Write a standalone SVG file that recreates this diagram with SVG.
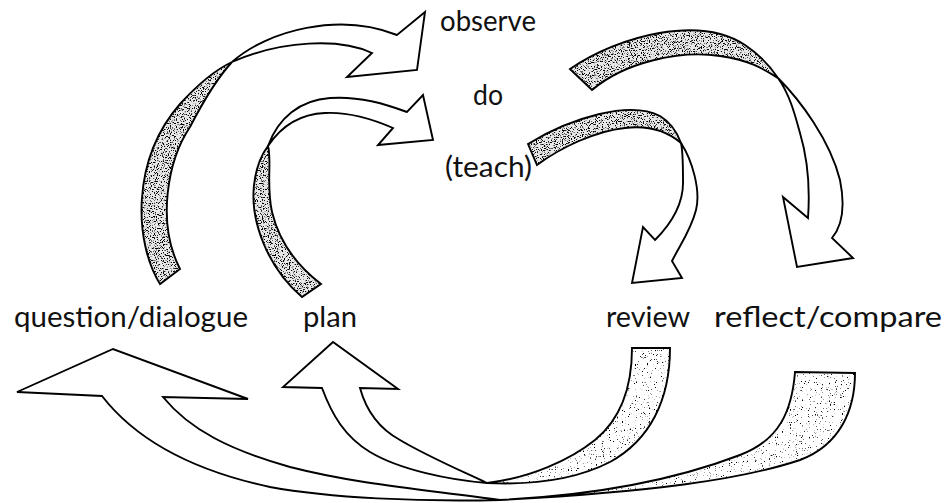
<svg xmlns="http://www.w3.org/2000/svg" xmlns:xlink="http://www.w3.org/1999/xlink" width="947" height="503" viewBox="0 0 947 503">
  <defs>
    <style>
      .lbl { font-family: Lato, "Open Sans", "Liberation Sans", sans-serif; font-size: 29px; fill: #111; }
      .face { fill: #fff; stroke: #000; stroke-width: 1.9; stroke-linejoin: miter; }
      .edge { fill: none; stroke: #000; stroke-width: 1.9; stroke-linejoin: miter; }
      .back-dark { fill: #e8e8e8; filter: url(#stippleDark); }
      .back-light { fill: #fff; filter: url(#stippleLight); }
    </style>
    <!-- speckled texture for the reverse side of the ribbons -->
    <filter id="stippleDark" x="0" y="0" width="100%" height="100%" color-interpolation-filters="sRGB">
      <feTurbulence type="fractalNoise" baseFrequency="0.85" numOctaves="2" seed="7" result="noise"/>
      <feColorMatrix in="noise" type="matrix" values="0 0 0 0 0  0 0 0 0 0  0 0 0 0 0  -9 0 0 0 4.15" result="dots"/>
      <feComposite in="dots" in2="SourceAlpha" operator="in" result="clip"/>
      <feMerge><feMergeNode in="SourceGraphic"/><feMergeNode in="clip"/></feMerge>
    </filter>
    <filter id="stippleLight" x="0" y="0" width="100%" height="100%" color-interpolation-filters="sRGB">
      <feTurbulence type="fractalNoise" baseFrequency="0.85" numOctaves="2" seed="3" result="noise"/>
      <feColorMatrix in="noise" type="matrix" values="0 0 0 0 0  0 0 0 0 0  0 0 0 0 0  -9 0 0 0 3.1" result="dots"/>
      <feComposite in="dots" in2="SourceAlpha" operator="in" result="clip"/>
      <feMerge><feMergeNode in="SourceGraphic"/><feMergeNode in="clip"/></feMerge>
    </filter>

    <!-- ribbon halves: s = reverse (speckled) side, w = front (white) side with head -->
    <path id="a1s" d="M160,284 C134,242 131,160 180,104 C200,82 215,70 232,62 C220,75 204,100 190,127 C168,160 156,222 180,269 Z"/>
    <path id="a1w" d="M232,62 C268,30 340,12 397,35 L425,12 L417,70 L347,77 L372,53 C340,38 282,40 232,62 Z"/>
    <path id="a2s" d="M302,297 C268,268 250,222 254,185 C256,168 261,155 268,146 C272,160 266,185 272,212 C280,245 300,268 321,284 Z"/>
    <path id="a2w" d="M268,146 C278,118 300,100 330,98 C360,96 385,104 407,112 L423,95 L433,140 L378,145 L393,128 C370,118 345,112 325,113 C300,114 282,125 268,146 Z"/>
    <path id="a3s" d="M528,144 C570,118 630,100 660,116 C670,122 677,132 681,143 C668,132 650,125 625,128 C595,131 560,148 537,165 Z"/>
    <path id="a3w" d="M681,143 C692,160 701,190 696,210 C691,230 680,245 672,261 L682,278 L632,283 L643,227 L655,240 C670,225 684,205 683,180 C683,165 683,152 681,143 Z"/>
    <path id="a4s" d="M570,69 C620,35 700,15 745,45 C760,55 770,66 778,78 C765,70 750,60 720,56 C680,50 625,62 592,90 Z"/>
    <path id="a4w" d="M778,78 C800,100 830,140 840,180 C845,205 843,225 832,238 L853,258 L797,267 L783,197 L808,218 C810,190 808,160 800,133 C795,115 790,95 778,78 Z"/>
    <path id="a5s" d="M632,348 L670,348 C670,400 650,440 610,462 C575,480 530,485 487,483 C530,478 570,460 595,440 C622,418 632,385 632,348 Z"/>
    <path id="a5w" d="M487,483 C450,480 400,470 370,452 C345,437 332,415 322,388 L283,387 L333,342 L398,389 L360,388 C366,410 378,428 400,440 C425,455 455,468 487,483 Z"/>
    <path id="a6s" d="M795,372 L855,373 C855,410 840,445 800,460 C740,480 650,492 500,500 C600,495 680,478 740,455 C780,440 792,410 795,372 Z"/>
    <path id="a6w" d="M500,500 C420,502 330,498 270,487 C200,472 140,445 102,396 L17,392 L113,349 L248,399 L163,397 C190,430 230,450 290,467 C360,485 430,490 500,500 Z"/>
  </defs>

  <rect width="947" height="503" fill="#fff"/>

  <g id="connectors">
    <!-- question/dialogue to observe -->
    <g id="arrow-question-observe">
      <use xlink:href="#a1w" class="face"/>
      <use xlink:href="#a1s" class="back-dark"/>
      <use xlink:href="#a1s" class="edge"/>
    </g>
    <!-- plan to do -->
    <g id="arrow-plan-do">
      <use xlink:href="#a2w" class="face"/>
      <use xlink:href="#a2s" class="back-dark"/>
      <use xlink:href="#a2s" class="edge"/>
    </g>
    <!-- (teach) to review -->
    <g id="arrow-teach-review">
      <use xlink:href="#a3w" class="face"/>
      <use xlink:href="#a3s" class="back-dark"/>
      <use xlink:href="#a3s" class="edge"/>
    </g>
    <!-- observe to reflect/compare -->
    <g id="arrow-observe-reflect">
      <use xlink:href="#a4w" class="face"/>
      <use xlink:href="#a4s" class="back-dark"/>
      <use xlink:href="#a4s" class="edge"/>
    </g>
    <!-- reflect/compare back to question/dialogue -->
    <g id="arrow-reflect-question">
      <use xlink:href="#a6w" class="face"/>
      <use xlink:href="#a6s" class="back-light"/>
      <use xlink:href="#a6s" class="edge"/>
    </g>
    <!-- review back to plan -->
    <g id="arrow-review-plan">
      <use xlink:href="#a5w" class="face"/>
      <use xlink:href="#a5s" class="back-light"/>
      <use xlink:href="#a5s" class="edge"/>
    </g>
  </g>

  <g id="node-observe"><text class="lbl" x="440" y="31" textLength="96" lengthAdjust="spacingAndGlyphs">observe</text></g>
  <g id="node-do"><text class="lbl" x="473" y="105" textLength="30" lengthAdjust="spacingAndGlyphs">do</text></g>
  <g id="node-teach"><text class="lbl" x="445" y="177" textLength="87" lengthAdjust="spacingAndGlyphs">(teach)</text></g>
  <g id="node-question"><text class="lbl" x="14" y="327" textLength="234" lengthAdjust="spacingAndGlyphs">question/dialogue</text></g>
  <g id="node-plan"><text class="lbl" x="303" y="327" textLength="54" lengthAdjust="spacingAndGlyphs">plan</text></g>
  <g id="node-review"><text class="lbl" x="606" y="327" textLength="84" lengthAdjust="spacingAndGlyphs">review</text></g>
  <g id="node-reflect"><text class="lbl" x="714" y="327" textLength="228" lengthAdjust="spacingAndGlyphs">reflect/compare</text></g>
</svg>
